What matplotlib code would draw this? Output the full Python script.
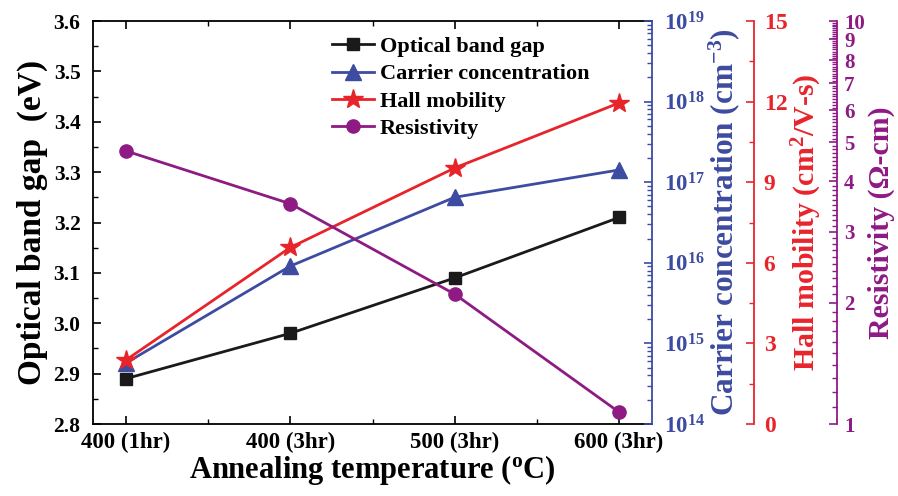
import numpy as np
import matplotlib
matplotlib.use('Agg')
import matplotlib.pyplot as plt
from matplotlib.ticker import MultipleLocator, FixedLocator, LogLocator, LogFormatterSciNotation, NullFormatter

# Band gap / electrical properties vs annealing condition

categories = ['400 (1hr)', '400 (3hr)', '500 (3hr)', '600 (3hr)']
band_gap = [2.89, 2.98, 3.09, 3.21]                  # eV
carrier_conc = [5.7e14, 9.1e15, 6.5e16, 1.42e17]     # cm^-3
hall_mobility = [2.38, 6.57, 9.53, 11.95]            # cm2/V-s
resistivity = [4.76, 3.52, 2.10, 1.07]               # ohm-cm

black = '#1a1a1a'
blue = '#3d4ba0'
red = '#e8242b'
purple = '#8e1a84'

plt.rcParams['font.family'] = 'serif'
plt.rcParams['font.serif'] = ['Liberation Serif']
plt.rcParams['font.weight'] = 'bold'
plt.rcParams['axes.labelweight'] = 'bold'
plt.rcParams['mathtext.fontset'] = 'custom'
plt.rcParams['mathtext.rm'] = 'Liberation Serif:bold'
plt.rcParams['mathtext.it'] = 'Liberation Serif:bold'
plt.rcParams['mathtext.bf'] = 'Liberation Serif:bold'
plt.rcParams['axes.linewidth'] = 1.3

fig = plt.figure(figsize=(8.98, 4.96), dpi=100)
ax = fig.add_axes([93/898, 72/496, 559/898, 403/496])
x = np.arange(len(categories))

l1, = ax.plot(x, band_gap, '-s', color=black, lw=2, ms=9, label='Optical band gap')
ax.set_xlim(-0.2, 3.2)
ax.set_ylim(2.8, 3.6)
ax.set_xticks(x)
ax.set_xticklabels(categories)
ax.xaxis.set_minor_locator(FixedLocator(x[:-1] + 0.5))
ax.yaxis.set_major_locator(MultipleLocator(0.1))
ax.yaxis.set_minor_locator(MultipleLocator(0.05))
ax.yaxis.set_major_formatter(plt.FormatStrFormatter('%.1f'))
ax.tick_params(which='both', direction='in', top=True, right=False)
ax.tick_params(axis='x', labelsize=16.5, pad=6)
ax.tick_params(axis='y', labelsize=15.5, pad=9)
ax.tick_params(which='major', length=6, width=1.2)
ax.tick_params(which='minor', length=3.5, width=1.0)
ax.spines['right'].set_visible(False)
ax.set_ylabel('Optical band gap  (eV)', fontsize=24, labelpad=4)
ax.set_xlabel('Annealing temperature ($^{\\mathregular{o}}$C)', fontsize=22, labelpad=0)

# carrier concentration, log axis at the right edge
ax2 = ax.twinx()
l2, = ax2.plot(x, carrier_conc, '-^', color=blue, lw=2, ms=11, label='Carrier concentration')
ax2.set_yscale('log')
ax2.set_ylim(1e14, 1e19)
ax2.yaxis.set_major_locator(LogLocator(base=10, numticks=10))
ax2.yaxis.set_minor_locator(LogLocator(base=10, subs=np.arange(2, 10), numticks=20))
ax2.yaxis.set_major_formatter(LogFormatterSciNotation())
ax2.yaxis.set_minor_formatter(NullFormatter())
ax2.spines['right'].set_color(blue)
for s in ['top', 'left', 'bottom']:
    ax2.spines[s].set_visible(False)
ax2.tick_params(which='both', direction='in', colors=blue, labelsize=16.5, pad=9)
ax2.tick_params(which='major', length=6, width=1.2)
ax2.tick_params(which='minor', length=3.5, width=1.0)
ax2.set_ylabel('Carrier concentration (cm$^{\\mathregular{-3}}$)', color=blue, fontsize=22.5, labelpad=1)

# hall mobility
ax3 = ax.twinx()
ax3.spines['right'].set_position(('axes', 1 + 102/559))
l3, = ax3.plot(x, hall_mobility, '-*', color=red, lw=2, ms=15, label='Hall mobility')
ax3.set_ylim(0, 15)
ax3.yaxis.set_major_locator(MultipleLocator(3))
ax3.yaxis.set_minor_locator(MultipleLocator(1.5))
ax3.spines['right'].set_color(red)
for s in ['top', 'left', 'bottom']:
    ax3.spines[s].set_visible(False)
ax3.tick_params(which='both', direction='in', colors=red, labelsize=17, pad=7)
ax3.tick_params(which='major', length=6, width=1.2)
ax3.tick_params(which='minor', length=3.5, width=1.0)
ax3.set_ylabel('Hall mobility (cm$^{\\mathregular{2}}$/V-s)', color=red, fontsize=21.5, labelpad=2)

# resistivity
ax4 = ax.twinx()
ax4.spines['right'].set_position(('axes', (837 - 93) / 559))
l4, = ax4.plot(x, resistivity, '-o', color=purple, lw=2, ms=9.5, label='Resistivity')
ax4.set_yscale('log')
ax4.set_ylim(1, 10)
ax4.yaxis.set_major_locator(FixedLocator(np.arange(1, 11)))
ax4.yaxis.set_minor_locator(FixedLocator(np.arange(1.1, 10, 0.1)))
ax4.yaxis.set_major_formatter(plt.FormatStrFormatter('%d'))
ax4.yaxis.set_minor_formatter(NullFormatter())
ax4.spines['right'].set_color(purple)
for s in ['top', 'left', 'bottom']:
    ax4.spines[s].set_visible(False)
ax4.tick_params(which='both', direction='in', colors=purple, labelsize=15, pad=5)
ax4.tick_params(which='major', length=6, width=1.2)
ax4.tick_params(which='minor', length=3.5, width=1.0)
ax4.set_ylabel('Resistivity (\u03a9-cm)', color=purple, fontsize=21.5, labelpad=2)

ax.legend(handles=[l1, l2, l3, l4], loc='upper left', bbox_to_anchor=(0.4, 1.0),
          frameon=False, fontsize=16, handlelength=1.9, handletextpad=0.25,
          labelspacing=0.3, borderaxespad=0.3)

fig.savefig('out.png', dpi=100)
